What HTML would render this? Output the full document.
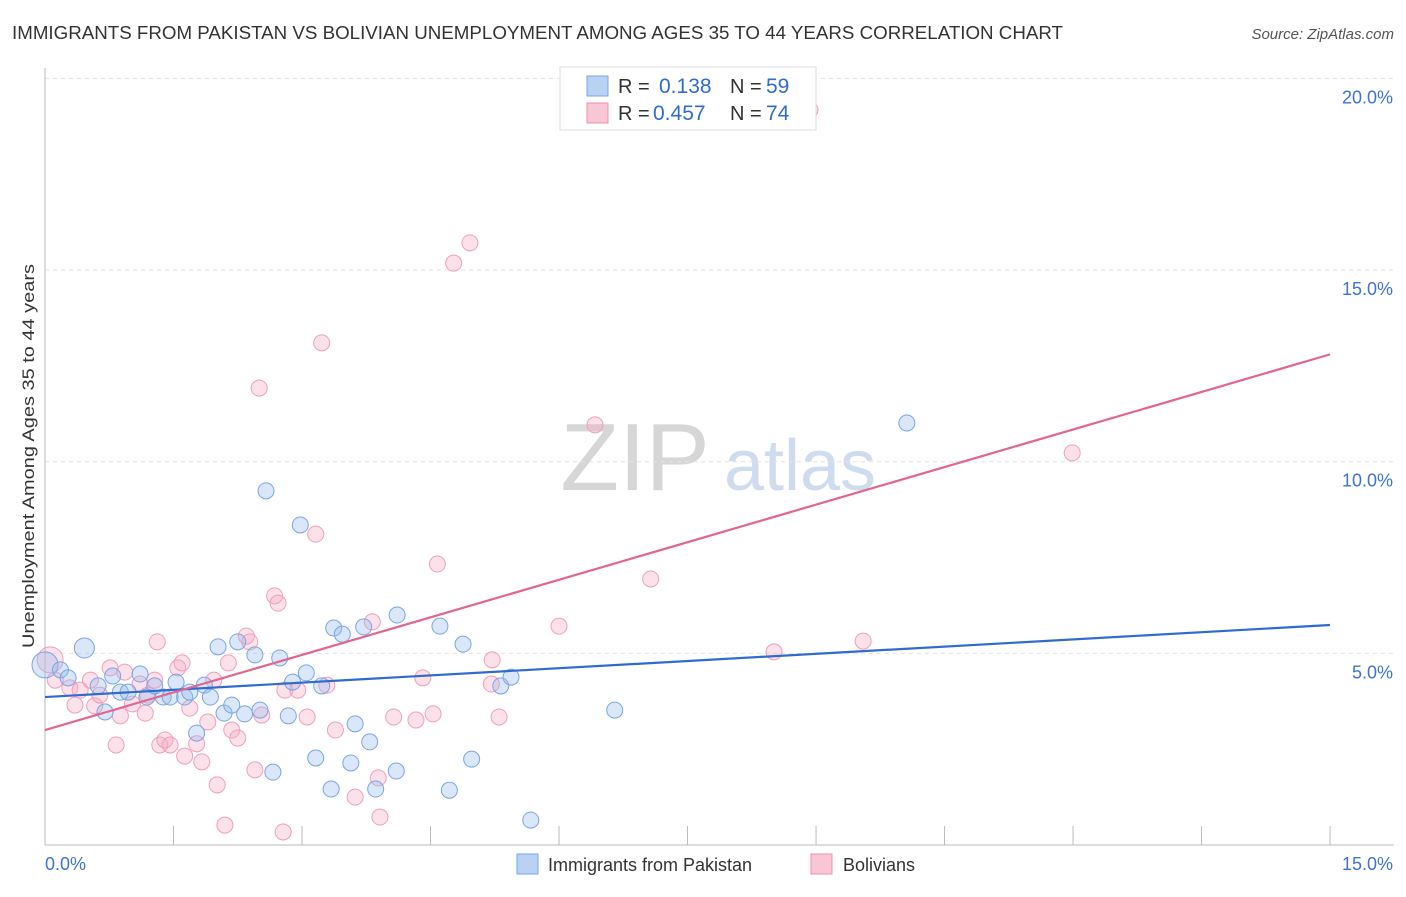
<!DOCTYPE html>
<html><head><meta charset="utf-8"><style>
body{margin:0;background:#fff;font-family:"Liberation Sans",sans-serif;}
svg text{font-family:"Liberation Sans",sans-serif;}
</style></head><body>
<svg id="chart" width="1406" height="892" xmlns="http://www.w3.org/2000/svg">
<text x="12" y="39" font-size="18" fill="#333" textLength="1051" lengthAdjust="spacingAndGlyphs">IMMIGRANTS FROM PAKISTAN VS BOLIVIAN UNEMPLOYMENT AMONG AGES 35 TO 44 YEARS CORRELATION CHART</text>
<text x="1394" y="39" font-size="15" fill="#555" text-anchor="end" font-style="italic">Source: ZipAtlas.com</text>
<text transform="translate(34,456) rotate(-90)" font-size="17" fill="#333" text-anchor="middle" textLength="384" lengthAdjust="spacingAndGlyphs">Unemployment Among Ages 35 to 44 years</text>
<g><text x="635" y="490" font-size="96" fill="#d6d6d6" font-family="Liberation Serif" text-anchor="middle">ZIP</text><text x="800" y="490" font-size="72" fill="#cfdcf0" text-anchor="middle">atlas</text></g>
<g id="grid"></g><g id="axes"></g><g id="pts"></g><g id="lines"></g>
<g>
<rect x="560" y="67" width="256" height="63" fill="#fff" stroke="#ddd"/>
<rect x="587" y="76" width="21" height="20" fill="#b9d1f3" stroke="#7aa5e5"/>
<rect x="587" y="103" width="21" height="20" fill="#f9c6d6" stroke="#ee8fae"/>
<text x="618" y="93" font-size="20" fill="#333">R =</text><text x="659" y="93" font-size="21" fill="#2f6bd0">0.138</text>
<text x="730" y="93" font-size="20" fill="#333">N =</text><text x="766" y="93" font-size="21" fill="#2f6bd0">59</text>
<text x="618" y="120" font-size="20" fill="#333">R =</text><text x="653" y="120" font-size="21" fill="#2f6bd0">0.457</text>
<text x="730" y="120" font-size="20" fill="#333">N =</text><text x="766" y="120" font-size="21" fill="#2f6bd0">74</text>
</g>
<g>
<rect x="517" y="854" width="21" height="20" fill="#b9d1f3" stroke="#7aa5e5"/>
<text x="548" y="871" font-size="18" fill="#333">Immigrants from Pakistan</text>
<rect x="811" y="854" width="21" height="20" fill="#f9c6d6" stroke="#ee8fae"/>
<text x="843" y="871" font-size="18" fill="#333">Bolivians</text>
</g>
</svg>
<script>
const xTicks=[0,1.5,3,4.5,6,7.5,9,10.5,12,13.5,15];
const yTicks=[5,10,15,20];
const blueX=[0,0.18,0.27,0.46,0.62,0.70,0.79,0.88,0.97,1.11,1.19,1.28,1.38,1.46,1.53,1.63,1.69,1.77,1.86,1.93,2.02,2.09,2.18,2.25,2.33,2.45,2.51,2.58,2.66,2.74,2.84,2.89,2.98,3.05,3.16,3.23,3.34,3.37,3.47,3.57,3.62,3.72,3.79,3.86,4.10,4.11,4.61,4.72,4.88,4.98,5.32,5.44,5.67,6.65,10.06];
const blueY=[4.70,4.57,4.36,5.14,4.15,3.47,4.41,3.99,3.99,4.46,3.86,4.15,3.86,3.86,4.25,3.86,3.99,2.92,4.17,3.86,5.17,3.44,3.65,5.30,3.42,4.96,3.52,9.24,1.90,4.88,3.37,4.25,8.35,4.49,2.27,4.15,1.46,5.66,5.50,2.14,3.16,5.69,2.69,1.46,1.93,6.00,5.71,1.43,5.24,2.24,4.15,4.38,0.65,3.52,11.01];
const pinkX=[0.06,0.12,0.29,0.35,0.41,0.53,0.58,0.64,0.76,0.83,0.88,0.93,1.02,1.11,1.17,1.20,1.28,1.31,1.34,1.40,1.46,1.55,1.60,1.63,1.69,1.77,1.83,1.90,1.97,2.01,2.10,2.14,2.18,2.25,2.35,2.39,2.45,2.50,2.53,2.68,2.72,2.78,2.80,2.95,3.06,3.16,3.23,3.29,3.39,3.62,3.82,3.89,3.91,4.07,4.33,4.41,4.53,4.58,4.77,4.96,5.21,5.22,5.30,6.00,6.42,7.07,8.51,8.93,9.55,11.99];
const pinkY=[4.83,4.30,4.10,3.65,4.04,4.30,3.63,3.91,4.62,2.61,3.37,4.51,3.68,4.20,3.44,3.91,4.30,5.30,2.61,2.74,2.61,4.62,4.75,2.32,3.57,2.64,2.17,3.21,4.30,1.57,0.52,4.75,3.00,2.79,5.45,5.30,1.96,11.92,3.39,6.50,6.31,0.34,4.04,4.04,3.34,8.11,13.10,4.17,3.00,1.25,5.82,1.75,0.73,3.34,3.26,4.36,3.42,7.33,15.18,15.71,4.20,4.83,3.34,5.71,10.96,6.94,5.04,19.18,5.32,10.23];
const blueFit=[3.86,5.74];
const pinkFit=[3.0,12.8];
const X=v=>45+v*85.67, Y=v=>845-v*38.33;
const NS="http://www.w3.org/2000/svg";
function mk(tag,parent,attrs){const e=document.createElementNS(NS,tag);for(const k in attrs)e.setAttribute(k,attrs[k]);parent.appendChild(e);return e;}
const grid=document.getElementById('grid'),axes=document.getElementById('axes'),pts=document.getElementById('pts'),lines=document.getElementById('lines');
yTicks.forEach(t=>{const l=mk('line',grid,{x1:45,x2:1394,y1:Y(t),y2:Y(t),stroke:'#e3e3e3','stroke-dasharray':'4,4'});


const tx=mk('text',axes,{x:1393,y:Y(t)+25,'font-size':18,fill:'#3d73d2','text-anchor':'end'});tx.textContent=t.toFixed(1)+'%';

});
const ax=mk('line',axes,{x1:45,x2:1394,y1:845,y2:845,stroke:'#bbb'});


const ay=mk('line',axes,{x1:45,x2:45,y1:68,y2:845,stroke:'#bbb'});


xTicks.forEach((t,i)=>{if(i==0)return;const l=mk('line',axes,{x1:X(t),x2:X(t),y1:826,y2:845,stroke:'#bbb'});

});
[[0,'start',45],[15,'end',1393]].forEach(([v,a,x])=>{const tx=mk('text',axes,{x:x,y:870,'font-size':18,fill:'#3d73d2','text-anchor':a});tx.textContent=v.toFixed(1)+'%';

});
pinkX.forEach((v,i)=>{const c=mk('circle',pts,{cx:X(v),cy:Y(pinkY[i]),r:i==0?13:8,fill:'rgba(246,170,196,0.35)',stroke:'#eea0ba','stroke-width':1});

});
blueX.forEach((v,i)=>{const c=mk('circle',pts,{cx:X(v),cy:Y(blueY[i]),r:i==0?13:(i==3?10:8),fill:'rgba(150,185,235,0.35)',stroke:'#7aa5e5','stroke-width':1});

});
const bl=mk('line',lines,{x1:X(0),y1:Y(blueFit[0]),x2:X(15),y2:Y(blueFit[1]),stroke:'#2f6bd0','stroke-width':2.2});


const pl=mk('line',lines,{x1:X(0),y1:Y(pinkFit[0]),x2:X(15),y2:Y(pinkFit[1]),stroke:'#e2668f','stroke-width':2.2});


</script>
</body></html>
